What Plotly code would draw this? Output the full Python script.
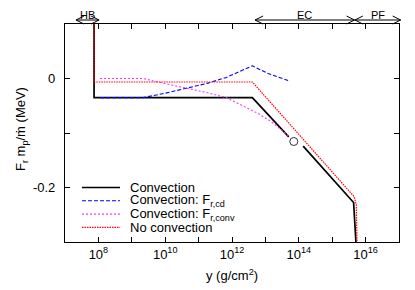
import plotly.graph_objects as go

# ---- data (column depth y in g/cm^2, flux F_r m_p / mdot in MeV) ----
conv_y = [7.41e7, 7.41e7, 4.07e12, 5.01e13, None, 1.35e14, 4.37e15, 5.37e15]
conv_f = [0.15, -0.035, -0.035, -0.107, None, -0.124, -0.2275, -0.32]

cd_y = [1.12e8, 2.19e9, 1.0e10, 4.79e10, 1.91e11, 6.76e11, 4.07e12, 1.20e13, 5.01e13]
cd_f = [-0.035, -0.035, -0.027, -0.0175, -0.0085, 0.002, 0.0233, 0.0092, -0.0042]

cv_y = [1.12e8, 2.19e9, 1.20e10, 4.79e10, 1.91e11, 6.61e11, 1.51e12, 6.03e12, 1.48e13, 4.79e13]
cv_f = [0.0, 0.0, -0.0105, -0.0183, -0.0262, -0.0349, -0.0459, -0.0642, -0.0789, -0.1046]

noconv_y = [7.41e7, 7.41e7, 4.07e12, 4.57e15, 5.25e15, 5.62e15]
noconv_f = [0.15, -0.0064, -0.0064, -0.217, -0.232, -0.32]

circle_y = [7.08e13]
circle_f = [-0.1156]

series_names = ["Convection", "Convection: F<sub>r,cd</sub>",
                "Convection: F<sub>r,conv</sub>", "No convection"]

x_tick_vals = [1e8, 1e9, 1e10, 1e11, 1e12, 1e13, 1e14, 1e15, 1e16]
x_tick_text = ["10<sup>8</sup>", "", "10<sup>10</sup>", "", "10<sup>12</sup>", "",
               "10<sup>14</sup>", "", "10<sup>16</sup>"]
y_tick_vals = [-0.2, -0.1, 0.0]
y_tick_text = ["-0.2", "", "0"]

region_names = ["HB", "EC", "PF"]
region_start_log = [7.33, 12.69, 15.68]
region_end_log = [8.02, 15.67, 17.05]

X_LOG_RANGE = [7, 17]
Y_RANGE = [-0.3, 0.1]

FONT = "Liberation Sans, Arial, Helvetica, sans-serif"

styles = [
    dict(color="black", width=1.7, dash="solid"),
    dict(color="#0000ff", width=1.1, dash="4px,2px"),
    dict(color="#ff33ff", width=1.1, dash="2px,2px"),
    dict(color="#ff0000", width=1.2, dash="1.5px,1px"),
]

fig = go.Figure()
for (xs, ys), st, nm in zip([(conv_y, conv_f), (cd_y, cd_f), (cv_y, cv_f), (noconv_y, noconv_f)],
                            styles, series_names):
    fig.add_trace(go.Scatter(x=xs, y=ys, mode="lines", name=nm, line=st,
                             connectgaps=False, showlegend=False))

fig.add_trace(go.Scatter(x=circle_y, y=circle_f, mode="markers", showlegend=False,
                         marker=dict(symbol="circle-open", size=8, color="#333333",
                                     line=dict(width=1))))

PLOT_TOP, PLOT_H = 16, 218
PLOT_L, PLOT_W = 57, 334
def py2paper(p):
    return (PLOT_TOP + PLOT_H - p) / PLOT_H
def px2paper(p):
    return (p - PLOT_L) / PLOT_W

shapes = []
annotations = []

# manual legend (tight spacing like the original)
leg_y_px = [179.5, 192.8, 206.1, 219.4]
for nm, st, ypx in zip(series_names, styles, leg_y_px):
    yp = py2paper(ypx)
    shapes.append(dict(type="line", xref="paper", yref="paper",
                       x0=px2paper(74), x1=px2paper(112), y0=yp, y1=yp,
                       line=dict(color=st["color"], width=st["width"], dash=st["dash"])))
    annotations.append(dict(text=nm, xref="paper", yref="paper", x=px2paper(120), y=yp,
                            xanchor="left", yanchor="middle", showarrow=False,
                            font=dict(size=13, color="black", family=FONT)))

# region arrows on top
arr_y = py2paper(12)
dx = 8 / PLOT_W
dy = 4 / PLOT_H
for nm, s, e in zip(region_names, region_start_log, region_end_log):
    xs = (s - X_LOG_RANGE[0]) / (X_LOG_RANGE[1] - X_LOG_RANGE[0])
    xe = (e - X_LOG_RANGE[0]) / (X_LOG_RANGE[1] - X_LOG_RANGE[0])
    ln = dict(color="black", width=1)
    shapes.append(dict(type="line", xref="paper", yref="paper", x0=xs, x1=xe,
                       y0=arr_y, y1=arr_y, line=ln))
    shapes.append(dict(type="path", xref="paper", yref="paper", line=ln,
                       path=f"M {xs+dx},{arr_y+dy} L {xs},{arr_y} L {xs+dx},{arr_y-dy}"))
    shapes.append(dict(type="path", xref="paper", yref="paper", line=ln,
                       path=f"M {xe-dx},{arr_y+dy} L {xe},{arr_y} L {xe-dx},{arr_y-dy}"))
    annotations.append(dict(text=nm, xref="paper", yref="paper", x=(xs + xe) / 2,
                            y=py2paper(0), xanchor="center", yanchor="top",
                            showarrow=False, borderpad=0,
                            font=dict(size=11, color="black", family=FONT)))

# axis titles
annotations.append(dict(text="F<sub>r</sub> m<sub>p</sub>/ṁ (MeV)", xref="paper", yref="paper",
                        x=px2paper(13), y=py2paper(121), xanchor="center", yanchor="middle",
                        textangle=-90, showarrow=False,
                        font=dict(size=13, color="black", family=FONT)))
annotations.append(dict(text="y (g/cm<sup>2</sup>)", xref="paper", yref="paper",
                        x=0.5, y=py2paper(267), xanchor="center", yanchor="middle",
                        showarrow=False, font=dict(size=13, color="black", family=FONT)))

fig.update_layout(
    width=415, height=290,
    margin=dict(l=PLOT_L, r=415 - PLOT_L - PLOT_W, t=PLOT_TOP, b=290 - PLOT_TOP - PLOT_H,
                autoexpand=False),
    paper_bgcolor="white", plot_bgcolor="white",
    font=dict(family=FONT, size=13, color="black"),
    shapes=shapes, annotations=annotations, showlegend=False,
    xaxis=dict(type="log", range=X_LOG_RANGE, tickvals=x_tick_vals, ticktext=x_tick_text,
               ticks="inside", ticklen=5, tickcolor="black", showgrid=False, zeroline=False,
               showline=True, linecolor="black", linewidth=1.2, mirror="ticks",
               automargin=False, tickfont=dict(size=13)),
    yaxis=dict(range=Y_RANGE, tickvals=y_tick_vals, ticktext=y_tick_text,
               ticks="inside", ticklen=5, tickcolor="black", showgrid=False, zeroline=False,
               showline=True, linecolor="black", linewidth=1.2, mirror="ticks",
               automargin=False, ticklabelstandoff=6,
               tickfont=dict(size=13)),
)

fig.write_html("out.html")
